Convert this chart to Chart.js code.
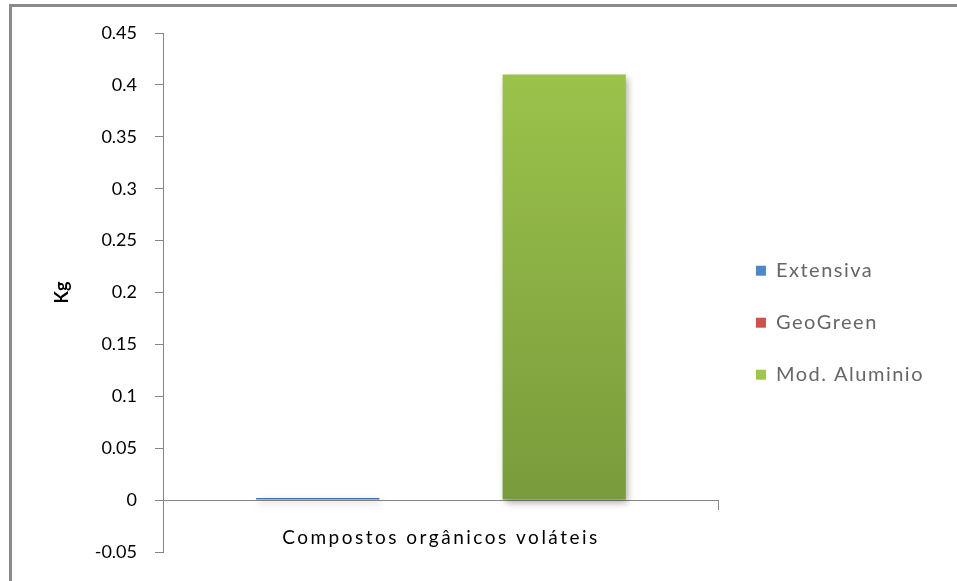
<!DOCTYPE html>
<html>
<head>
<meta charset="utf-8">
<script src="https://cdn.jsdelivr.net/npm/chart.js@4/dist/chart.umd.min.js"></script>
<style>
  html, body { margin: 0; padding: 0; background: #fff; overflow: hidden; }
  #wrap { position: relative; width: 957px; height: 581px; }
  #moldura { position: absolute; left: 9px; top: 4px; width: 2000px; height: 2000px;
             border-left: 3px solid #8a8a8a; border-top: 3px solid #8a8a8a; pointer-events: none; }
</style>
</head>
<body>
<div id="wrap">
  <canvas id="grafico" width="957" height="581"></canvas>
  <div id="moldura"></div>
</div>
<script>
// Dados do gráfico
const categorias = ["Compostos orgânicos voláteis"];
const series = ["Extensiva", "GeoGreen", "Mod. Aluminio"];
const extensiva = [0.002];
const geoGreen = [0];
const modAluminio = [0.41];
const ticksY = [-0.05, 0, 0.05, 0.1, 0.15, 0.2, 0.25, 0.3, 0.35, 0.4, 0.45];

// Cores (topo, base) no estilo Excel
const cores = [
    ["#4f86c8", "#3d6fae"],
    ["#d0514c", "#a93a36"],
    ["#9ec64c", "#76963a"]
];

function gradiente(i) {
    return function(context) {
        const area = context.chart.chartArea;
        if (!area) return cores[i][0];
        const g = context.chart.ctx.createLinearGradient(0, area.top, 0, area.bottom);
        g.addColorStop(0, cores[i][0]);
        g.addColorStop(1, cores[i][1]);
        return g;
    };
}

// Sombra nas barras
const sombra = {
    id: "sombra",
    beforeDatasetsDraw(chart) {
        const ctx = chart.ctx;
        ctx.save();
        ctx.shadowColor = "rgba(0,0,0,0.35)";
        ctx.shadowBlur = 7;
        ctx.shadowOffsetX = 2;
        ctx.shadowOffsetY = 3;
    },
    afterDatasetsDraw(chart) {
        chart.ctx.restore();
    }
};

// Espaçamento entre letras na legenda e no rótulo do eixo x
function comEspaco(obj, nome, ctx, esp, dx) {
    const orig = obj[nome];
    obj[nome] = function() {
        ctx.save();
        ctx.letterSpacing = esp;
        if (dx) ctx.translate(dx, 0);
        const r = orig.apply(this, arguments);
        ctx.restore();
        return r;
    };
}
const espacamento = {
    id: "espacamento",
    beforeLayout(chart) {
        if (chart._espOk) return;
        chart._espOk = true;
        comEspaco(chart.legend, "fit", chart.ctx, "1.5px", 0);
        comEspaco(chart.legend, "draw", chart.ctx, "1.5px", 5);
        comEspaco(chart.scales.x, "drawLabels", chart.ctx, "2.5px", 0);
    }
};

const fonte = "Lato, 'Open Sans', sans-serif";
const cinza = "#868686";

new Chart(document.getElementById("grafico").getContext("2d"), {
    type: "bar",
    data: {
        labels: categorias,
        datasets: [
            { label: series[0], data: extensiva, backgroundColor: gradiente(0) },
            { label: series[1], data: geoGreen, backgroundColor: gradiente(1) },
            { label: series[2], data: modAluminio, backgroundColor: gradiente(2) }
        ]
    },
    options: {
        responsive: false,
        animation: false,
        categoryPercentage: 0.665,
        barPercentage: 1,
        layout: { padding: { top: 33, bottom: 29, left: 0, right: 28 } },
        plugins: {
            tooltip: { enabled: false },
            legend: {
                position: "right",
                align: "center",
                title: { display: true, text: " ", padding: { top: 0, bottom: 46 } },
                labels: {
                    boxWidth: 10,
                    boxHeight: 10,
                    padding: 32,
                    color: "#000",
                    font: { family: fonte, size: 20 },
                    generateLabels(chart) {
                        return series.map((s, i) => ({
                            text: s,
                            fillStyle: cores[i][0],
                            strokeStyle: cores[i][0],
                            lineWidth: 0,
                            datasetIndex: i
                        }));
                    }
                }
            }
        },
        scales: {
            x: {
                position: { y: 0 },
                offset: true,
                grid: { display: true, offset: true, drawOnChartArea: false, tickLength: 9, color: cinza },
                border: { color: cinza, width: 1 },
                ticks: { color: "#000", padding: 17, font: { family: fonte, size: 19 } }
            },
            y: {
                min: -0.05,
                max: 0.45,
                afterBuildTicks(scale) {
                    scale.ticks = ticksY.map(v => ({ value: v }));
                },
                afterFit(scale) {
                    scale.width = 163;
                },
                grid: { drawOnChartArea: false, tickLength: 8, color: cinza },
                border: { color: cinza, width: 1 },
                ticks: {
                    color: "#000",
                    padding: 18,
                    font: { family: fonte, size: 18 },
                    callback: v => String(v)
                },
                title: {
                    display: true,
                    text: "Kg",
                    color: "#000",
                    font: { family: fonte, size: 18, weight: "bold" },
                    padding: { top: 51, bottom: 0 }
                }
            }
        }
    },
    plugins: [sombra, espacamento]
});
</script>
</body>
</html>
